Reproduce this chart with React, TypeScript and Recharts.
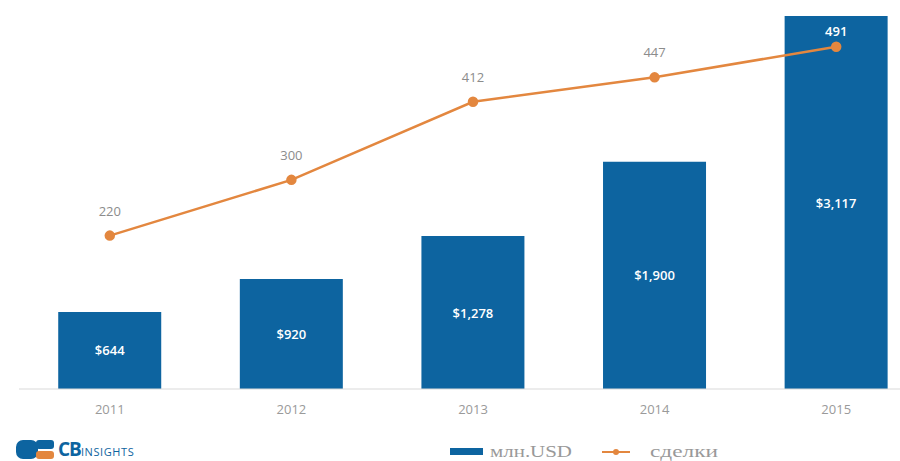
import {
  ComposedChart,
  Bar,
  Line,
  XAxis,
  YAxis,
  LabelList,
} from "recharts";

const years = ["2011", "2012", "2013", "2014", "2015"];
const funding = [644, 920, 1278, 1900, 3117];
const deals = [220, 300, 412, 447, 491];
const fundingLabels = ["$644", "$920", "$1,278", "$1,900", "$3,117"];

const BLUE = "#0d64a0";
const ORANGE = "#e3873f";
const GREY = "#8c8c8c";

const data = years.map((year, i) => ({
  year,
  funding: funding[i],
  deals: deals[i],
  fundingLabel: fundingLabels[i],
}));

const renderDealLabel = (props: any) => {
  const { x, y, value, index } = props;
  const onBar = index === years.length - 1;
  return (
    <text
      x={x}
      y={onBar ? y - 11 : y - 20}
      textAnchor="middle"
      fontSize={13}
      fontFamily="Open Sans"
      fontWeight={onBar ? 600 : 400}
      fill={onBar ? "#ffffff" : GREY}
    >
      {value}
    </text>
  );
};

const renderFundingLabel = (props: any) => {
  const { x, y, width, height, value } = props;
  return (
    <text
      x={x + width / 2}
      y={y + height / 2 + 5}
      textAnchor="middle"
      fontSize={13}
      fontFamily="Open Sans"
      fontWeight={600}
      fill="#ffffff"
    >
      {value}
    </text>
  );
};

function Logo() {
  return (
    <div
      style={{
        position: "absolute",
        left: 16,
        top: 440,
        height: 19,
        display: "flex",
        alignItems: "center",
        fontFamily: "Open Sans",
        lineHeight: 1,
      }}
    >
      <svg width={40} height={19}>
        <rect x={0} y={0} width={22} height={19} rx={7} fill={BLUE} />
        <rect x={20} y={0} width={18} height={9} rx={3} fill={BLUE} />
        <rect x={20} y={11} width={18} height={8} rx={3} fill={ORANGE} />
      </svg>
      <span style={{ color: BLUE, fontWeight: 700, fontSize: 19, marginLeft: 2, letterSpacing: -1 }}>
        CB
      </span>
      <span style={{ color: BLUE, fontSize: 11, letterSpacing: 0.6, marginTop: 3 }}>INSIGHTS</span>
    </div>
  );
}

function LegendBox() {
  return (
    <svg
      width={300}
      height={21}
      style={{ position: "absolute", left: 440, top: 440 }}
    >
      <rect x={10} y={8} width={33} height={7} fill={BLUE} />
      <text
        x={50}
        y={17}
        fontFamily="Liberation Serif"
        fontSize={17}
        fill="#999999"
        textLength={82}
        lengthAdjust="spacingAndGlyphs"
      >
        млн.USD
      </text>
      <line x1={162} y1={12} x2={190} y2={12} stroke={ORANGE} strokeWidth={2} />
      <circle cx={176} cy={12} r={3} fill={ORANGE} />
      <text
        x={210}
        y={17}
        fontFamily="Liberation Serif"
        fontSize={17}
        fill="#999999"
        textLength={68}
        lengthAdjust="spacingAndGlyphs"
      >
        сделки
      </text>
    </svg>
  );
}

export default function App() {
  return (
    <div
      style={{
        position: "absolute",
        left: 0,
        top: 0,
        width: 900,
        height: 461,
        overflow: "hidden",
        background: "#ffffff",
      }}
    >
      <ComposedChart
        width={940}
        height={461}
        data={data}
        margin={{ top: 16, right: 13, left: 19, bottom: 42 }}
        barCategoryGap="21.6%"
      >
        <XAxis
          dataKey="year"
          height={30}
          tickLine={false}
          axisLine={{ stroke: "#d9d9d9" }}
          tick={{ fontSize: 13, fill: "#9a9a9a", fontFamily: "Open Sans" }}
          dy={8}
        />
        <YAxis yAxisId="left" hide domain={[0, 3117]} />
        <YAxis yAxisId="right" hide orientation="right" domain={[0, 535]} />
        <Bar yAxisId="left" dataKey="funding" fill={BLUE} isAnimationActive={false}>
          <LabelList dataKey="fundingLabel" content={renderFundingLabel} />
        </Bar>
        <Line
          yAxisId="right"
          dataKey="deals"
          stroke={ORANGE}
          strokeWidth={2.5}
          dot={{ r: 4, fill: ORANGE, stroke: ORANGE }}
          isAnimationActive={false}
        >
          <LabelList dataKey="deals" content={renderDealLabel} />
        </Line>
      </ComposedChart>
      <Logo />
      <LegendBox />
    </div>
  );
}
